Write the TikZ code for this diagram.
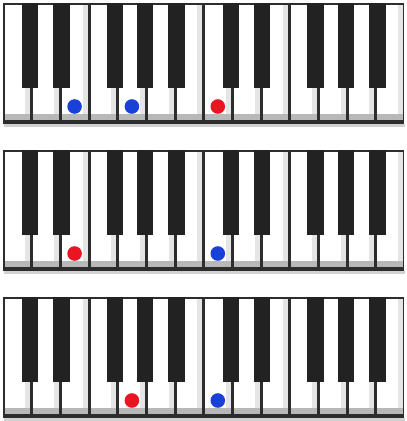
\documentclass[tikz,border=0pt]{standalone}
\definecolor{keyblack}{RGB}{34,34,34}
\definecolor{keyframe}{RGB}{45,45,45}
\definecolor{dotblue}{RGB}{25,65,215}
\definecolor{dotred}{RGB}{235,20,35}
\tikzset{
  whitekey/.style={fill=white},
  keyshade/.style={fill=black!10},
  keylip/.style={fill=black!28},
  blackkey/.style={fill=keyblack},
  bluedot/.style={fill=dotblue},
  reddot/.style={fill=dotred}
}
\begin{document}
\begin{tikzpicture}[x=1pt,y=-1pt]
\useasboundingbox (0,0) rectangle (407,421);
\fill[white] (0,0) rectangle (407,421);
\foreach \y in {3,150,297}{
  \fill[black!18] (4,\y+121) rectangle (405,\y+124);
  \fill[keyframe] (3,\y) rectangle (404,\y+121);
  \foreach \k in {0,...,13}{
    \pgfmathsetmacro\xa{3+\k*28.643+1.8}
    \pgfmathsetmacro\xb{3+(\k+1)*28.643-1.2}
    \fill[whitekey] (\xa,\y+1.5) rectangle (\xb,\y+117);
    \fill[keyshade] (\xb-5,\y+1.5) rectangle (\xb,\y+117);
    \fill[keylip] (\xa,\y+111) rectangle (\xb,\y+117);
  }
  \foreach \b/\o in {1/-1.5,2/1.3,4/-2.7,5/-1,6/1.8,8/-1,9/1.5,11/-2.5,12/-1,13/2}{
    \pgfmathsetmacro\xc{3+\b*28.643+\o}
    \fill[blackkey] (\xc-8.2,\y) rectangle (\xc+8.2,\y+85);
  }
}
% keyboard 1
\fill[bluedot] (74.6,106.5) circle (7.3);
\fill[bluedot] (131.9,106.5) circle (7.3);
\fill[reddot] (217.8,106.5) circle (7.3);
% keyboard 2
\fill[reddot] (74.6,253.5) circle (7.3);
\fill[bluedot] (217.8,253.5) circle (7.3);
% keyboard 3
\fill[reddot] (131.9,400.5) circle (7.3);
\fill[bluedot] (217.8,400.5) circle (7.3);
\end{tikzpicture}
\end{document}
